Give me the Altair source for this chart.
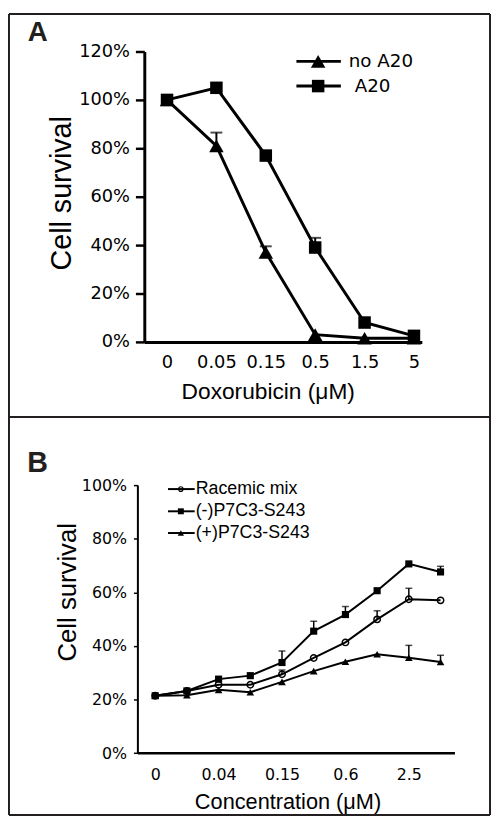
import json
import altair as alt
import pandas as pd

# ---------------- data: panel A ----------------
doses_a = ["0", "0.05", "0.15", "0.5", "1.5", "5"]
series_a = ["no A20", "A20"]
no_a20 = [100, 81, 37, 3, 1.5, 1.5]
no_a20_err = [None, 86.5, 39.5, None, None, None]
a20 = [100, 105, 77, 39, 8, 2.5]
a20_err = [None, None, None, 43, None, None]
yticks_a = [0, 20, 40, 60, 80, 100, 120]

# ---------------- data: panel B ----------------
xlabels_b = ["0", "", "0.04", "", "0.15", "", "0.6", "", "2.5", ""]
series_b = ["Racemic mix", "(-)P7C3-S243", "(+)P7C3-S243"]
racemic = [21.4, 23.2, 25.5, 25.5, 29.4, 35.5, 41.3, 49.9, 57.4, 57.0]
racemic_err = [None, None, None, None, 31.0, None, None, 53.1, 61.5, None]
minus = [21.4, 23.2, 27.6, 28.9, 33.8, 45.5, 51.7, 60.6, 70.6, 67.6]
minus_err = [None, None, None, None, 38.1, 49.2, 54.7, None, None, 69.7]
plus = [21.4, 21.6, 23.6, 22.7, 26.6, 30.6, 34.1, 36.9, 35.6, 34.0]
plus_err = [None, None, None, None, None, None, None, None, 40.2, 36.5]
yticks_b = [0, 20, 40, 60, 80, 100]


def long_df(names, vals, errs):
    rows = []
    for name, v, e in zip(names, vals, errs):
        for i, (vv, ee) in enumerate(zip(v, e)):
            rows.append({"series": name, "pos": i, "val": vv, "err": ee})
    return pd.DataFrame(rows)


df_a = long_df(series_a, [no_a20, a20], [no_a20_err, a20_err])
df_b = long_df(series_b, [racemic, minus, plus], [racemic_err, minus_err, plus_err])
dummy = pd.DataFrame({"k": [0]})

TICK_FONT = "DejaVu Sans"
TITLE_FONT = "Liberation Sans"
FRAME = "#231f20"

# Layout (pixels, relative to panel A's plot origin)
WA, HA = 281, 294                 # panel A plot area
B_X_RANGE = [-7, 314]             # panel B plot area, horizontally
B_Y_RANGE = [710.3, 439]          # panel B plot area, vertically (0% -> 100%)


def hrule(x1, x2, y, w=2, color=FRAME):
    return alt.Chart(dummy).mark_rule(color=color, strokeWidth=w).encode(
        x=alt.value(x1), x2=alt.value(x2), y=alt.value(y), y2=alt.value(y))


def vrule(x, y1, y2, w=2, color=FRAME):
    return alt.Chart(dummy).mark_rule(color=color, strokeWidth=w).encode(
        x=alt.value(x), x2=alt.value(x), y=alt.value(y1), y2=alt.value(y2))


def text_at(txt, x, y, font, size, weight="normal", align="left", color="black"):
    return alt.Chart(dummy).mark_text(
        text=txt, font=font, fontSize=size, fontWeight=weight, align=align,
        baseline="middle", color=color).encode(x=alt.value(x), y=alt.value(y))


# ---------------- frames ----------------
frames = [
    hrule(-137, 350, -38),   # top
    hrule(-137, 350, 370),   # divider between panels
    hrule(-137, 350, 773),   # bottom
    vrule(-137, -38, 773),   # left
    vrule(350, -38, 773),    # right
]

# ================= Panel A =================
xa = alt.X(
    "pos:Q",
    scale=alt.Scale(domain=[-0.46, 5.16], nice=False, zero=False),
    axis=alt.Axis(
        values=list(range(len(doses_a))),
        labelExpr=json.dumps(doses_a) + "[datum.value]",
        title="Doxorubicin (μM)", orient="bottom",
        ticks=False, tickSize=0, grid=False,
        domainColor="black", domainWidth=3,
        labelFont=TICK_FONT, labelFontSize=18, labelColor="black",
        labelPadding=21, labelBaseline="middle", labelFlush=False, labelOverlap=False,
        titleFont=TITLE_FONT, titleFontSize=23, titleFontWeight="normal", titleColor="black",
        titleX=125, titleY=50, titleBaseline="middle", titleAlign="center",
    ),
)
ya = alt.Y(
    "val:Q",
    scale=alt.Scale(domain=[0, 120], nice=False),
    axis=alt.Axis(
        values=yticks_a,
        labelExpr="datum.value + '%'",
        title="Cell survival", orient="left",
        tickSize=9, tickWidth=2.5, tickColor="black", grid=False,
        domainColor="black", domainWidth=3,
        labelFont=TICK_FONT, labelFontSize=18, labelColor="black", labelPadding=6,
        labelFlush=False, labelOverlap=False,
        titleFont=TITLE_FONT, titleFontSize=29, titleFontWeight="normal", titleColor="black",
        titleX=-84, titleY=143, titleAngle=-90, titleBaseline="middle", titleAlign="center",
    ),
)

base_a = alt.Chart(df_a)
err_a = base_a.transform_filter("isValid(datum.err)").mark_rule(color="black", strokeWidth=2).encode(
    x=xa, y=ya, y2="err:Q")
cap_a = base_a.transform_filter("isValid(datum.err)").mark_tick(
    orient="horizontal", size=12, thickness=2, color="black").encode(x=xa, y=alt.Y("err:Q"))
line_a = base_a.mark_line(color="black", strokeWidth=3).encode(x=xa, y=ya, detail="series:N")

shapes_a = {"no A20": ("triangle-up", 215), "A20": ("square", 160)}
pts_a = []
for name in series_a:
    shp, sz = shapes_a[name]
    pts_a.append(base_a.transform_filter(alt.datum.series == name).mark_point(
        filled=True, color="black", opacity=1, shape=shp, size=sz).encode(x=xa, y=ya))

leg_a = []
leg_rows_a = [10, 35]
leg_text_x_a = [207, 213]
for i, name in enumerate(series_a):
    shp, sz = shapes_a[name]
    ly = leg_rows_a[i]
    leg_a.append(hrule(154, 199, ly, w=3, color="black"))
    leg_a.append(alt.Chart(dummy).mark_point(filled=True, color="black", opacity=1, shape=shp, size=sz).encode(
        x=alt.value(176), y=alt.value(ly)))
    leg_a.append(text_at(name, leg_text_x_a[i], ly, TICK_FONT, 18.5))

label_a = text_at("A", -108, -19, TITLE_FONT, 28, weight="bold", align="center", color=FRAME)

panel_a = alt.layer(*frames, err_a, cap_a, line_a, *pts_a, *leg_a, label_a)

# ================= Panel B =================
xb = alt.X(
    "pos:Q",
    scale=alt.Scale(domain=[-0.561, 9.439], range=B_X_RANGE, nice=False, zero=False),
    axis=alt.Axis(
        values=list(range(len(xlabels_b))),
        labelExpr=json.dumps(xlabels_b) + "[datum.value]",
        title="Concentration (μM)", orient="bottom", offset=416,
        ticks=False, tickSize=0, grid=False,
        domainColor="black", domainWidth=2.5,
        labelFont=TICK_FONT, labelFontSize=16, labelColor="black",
        labelPadding=22, labelBaseline="middle", labelFlush=False, labelOverlap=False,
        titleFont=TITLE_FONT, titleFontSize=22, titleFontWeight="normal", titleColor="black",
        titleX=145, titleY=49, titleBaseline="middle", titleAlign="center",
    ),
)
yb = alt.Y(
    "val:Q",
    scale=alt.Scale(domain=[0, 100], range=B_Y_RANGE, nice=False, zero=False),
    axis=alt.Axis(
        values=yticks_b,
        labelExpr="datum.value + '%'",
        title="Cell survival", orient="left", offset=7,
        tickSize=4, tickWidth=1.5, tickColor="black", grid=False,
        domainColor="black", domainWidth=2,
        labelFont=TICK_FONT, labelFontSize=16, labelColor="black", labelPadding=7,
        labelFlush=False, labelOverlap=False,
        titleFont=TITLE_FONT, titleFontSize=26, titleFontWeight="normal", titleColor="black",
        titleX=-71, titleY=547, titleAngle=-90, titleBaseline="middle", titleAlign="center",
    ),
)

base_b = alt.Chart(df_b)
err_b = base_b.transform_filter("isValid(datum.err)").mark_rule(color="black", strokeWidth=1.5).encode(
    x=xb, y=yb, y2="err:Q")
cap_b = base_b.transform_filter("isValid(datum.err)").mark_tick(
    orient="horizontal", size=7, thickness=1.5, color="black").encode(x=xb, y=alt.Y("err:Q"))
line_b = base_b.mark_line(color="black", strokeWidth=2).encode(x=xb, y=yb, detail="series:N")

marker_b = {
    "Racemic mix": dict(shape="circle", size=42, filled=False, strokeWidth=1.5),
    "(-)P7C3-S243": dict(shape="square", size=52, filled=True),
    "(+)P7C3-S243": dict(shape="triangle-up", size=60, filled=True),
}
marker_leg_b = {
    "Racemic mix": dict(shape="circle", size=22, filled=False, strokeWidth=1.2),
    "(-)P7C3-S243": dict(shape="square", size=36, filled=True),
    "(+)P7C3-S243": dict(shape="triangle-up", size=40, filled=True),
}
pts_b = []
for name in series_b:
    pts_b.append(base_b.transform_filter(alt.datum.series == name).mark_point(
        color="black", opacity=1, **marker_b[name]).encode(x=xb, y=yb))

leg_b = []
leg_rows_b = [443, 465.5, 487.5]
for i, name in enumerate(series_b):
    ly = leg_rows_b[i]
    leg_b.append(hrule(24, 51, ly, w=2, color="black"))
    leg_b.append(alt.Chart(dummy).mark_point(color="black", opacity=1, **marker_leg_b[name]).encode(
        x=alt.value(37), y=alt.value(ly)))
    leg_b.append(text_at(name, 52, ly, TITLE_FONT, 18))

label_b = text_at("B", -108, 416.5, TITLE_FONT, 29, weight="bold", align="center", color=FRAME)

panel_b = alt.layer(err_b, cap_b, line_b, *pts_b, *leg_b, label_b)

chart = alt.layer(panel_a, panel_b).resolve_scale(
    x="independent", y="independent"
).properties(
    width=WA, height=HA, padding=0, background="white"
).configure_view(stroke=None)

chart.save("out.html", embed_options={"renderer": "svg", "actions": False})
